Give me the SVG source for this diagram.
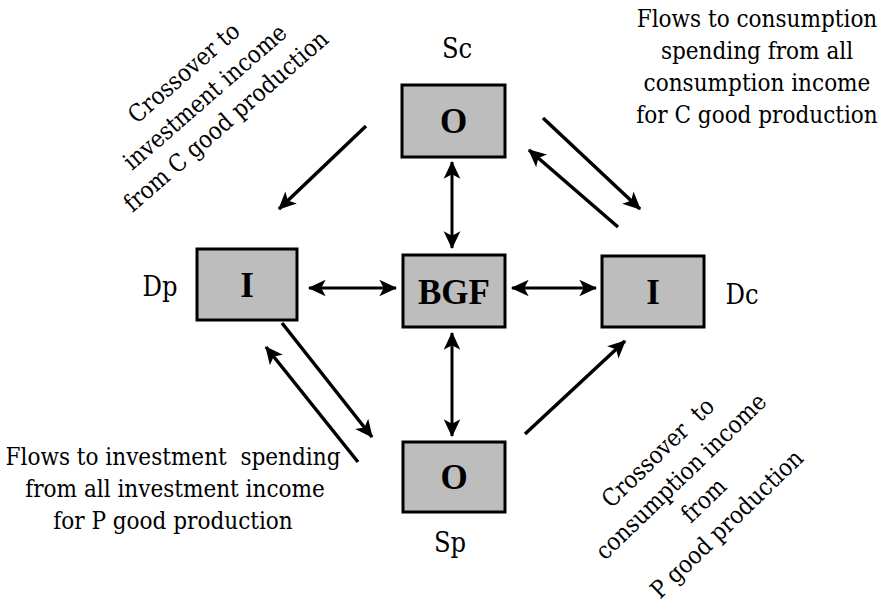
<svg xmlns="http://www.w3.org/2000/svg" width="891" height="604" viewBox="0 0 891 604">
<style>
.box{fill:#bdbdbd;stroke:#000;stroke-width:3}
text{fill:#000;text-anchor:middle}
.bl{font-family:'Liberation Serif','DejaVu Serif Condensed','DejaVu Serif',serif;font-stretch:condensed;font-size:35px;font-weight:bold}
.lb{font-family:'DejaVu Serif Condensed','DejaVu Serif',serif;font-stretch:condensed;font-size:27px}
.tx{font-family:'DejaVu Serif Condensed','DejaVu Serif',serif;font-stretch:condensed;font-size:24px}
.ln{stroke:#000;stroke-width:3.5;fill:none}
.dl{stroke:#000;stroke-width:3;fill:none}
</style>
<defs>
<marker id="ah" markerUnits="userSpaceOnUse" markerWidth="20" markerHeight="20" viewBox="-16 -8 18 16" refX="0" refY="0" orient="auto-start-reverse">
<path d="M1,0 L-15,-7.5 L-11,0 L-15,7.5 Z" fill="#000"/>
</marker>
</defs>
<rect width="891" height="604" fill="#fff"/>
<g id="node-sc">
<rect class="box" x="402" y="85" width="103" height="72"/>
<text class="bl" x="453.5" y="133">O</text>
<text class="lb" x="457" y="58">Sc</text>
</g>
<g id="node-bgf">
<rect class="box" x="403" y="255" width="102" height="72"/>
<text class="bl" x="454" y="304">BGF</text>
</g>
<g id="node-dp">
<rect class="box" x="197" y="249" width="100" height="71"/>
<text class="bl" x="247" y="297">I</text>
<text class="lb" x="160" y="296">Dp</text>
</g>
<g id="node-dc">
<rect class="box" x="602" y="256" width="102" height="71"/>
<text class="bl" x="653" y="304">I</text>
<text class="lb" x="742" y="304">Dc</text>
</g>
<g id="node-sp">
<rect class="box" x="403" y="442" width="102" height="70"/>
<text class="bl" x="454" y="489">O</text>
<text class="lb" x="450" y="552">Sp</text>
</g>
<g id="connectors">
<line class="dl" x1="452" y1="162" x2="452" y2="248" marker-start="url(#ah)" marker-end="url(#ah)"/>
<line class="dl" x1="452" y1="333" x2="452" y2="436" marker-start="url(#ah)" marker-end="url(#ah)"/>
<line class="dl" x1="309" y1="288" x2="396" y2="288" marker-start="url(#ah)" marker-end="url(#ah)"/>
<line class="dl" x1="512" y1="288" x2="596" y2="288" marker-start="url(#ah)" marker-end="url(#ah)"/>
<line class="ln" x1="366" y1="126" x2="279" y2="209" marker-end="url(#ah)"/>
<line class="ln" x1="543" y1="118" x2="640" y2="209" marker-end="url(#ah)"/>
<line class="ln" x1="618" y1="227" x2="529" y2="150" marker-end="url(#ah)"/>
<line class="ln" x1="282" y1="323" x2="372" y2="437" marker-end="url(#ah)"/>
<line class="ln" x1="358" y1="462" x2="266" y2="347" marker-end="url(#ah)"/>
<line class="ln" x1="525" y1="434" x2="625" y2="341" marker-end="url(#ah)"/>
</g>
<g id="label-top-left" transform="translate(205,97) rotate(-41)">
<text class="tx" x="0" y="-24">Crossover to</text>
<text class="tx" x="0" y="8">investment income</text>
<text class="tx" x="0" y="40">from C good production</text>
</g>
<g id="label-top-right">
<text class="tx" x="757" y="27">Flows to consumption</text>
<text class="tx" x="757" y="59">spending from all</text>
<text class="tx" x="757" y="91">consumption income</text>
<text class="tx" x="757" y="123">for C good production</text>
</g>
<g id="label-bottom-left">
<text class="tx" x="173" y="465" xml:space="preserve">Flows to investment  spending</text>
<text class="tx" x="175" y="497">from all investment income</text>
<text class="tx" x="173" y="529">for P good production</text>
</g>
<g id="label-bottom-right" transform="translate(692,488) rotate(-44)">
<text class="tx" x="0" y="-41" xml:space="preserve">Crossover  to</text>
<text class="tx" x="0" y="-8">consumption income</text>
<text class="tx" x="0" y="25">from</text>
<text class="tx" x="0" y="58">P good production</text>
</g>
</svg>
